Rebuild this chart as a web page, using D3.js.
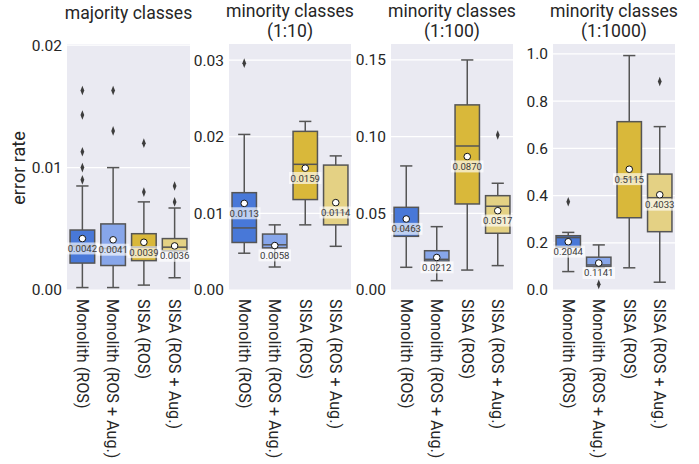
<!DOCTYPE html>
<html>
<head>
<meta charset="utf-8">
<script src="https://cdn.jsdelivr.net/npm/d3@7"></script>
<style>
  body { margin: 0; background: #ffffff; }
  svg { display: block; font-family: Roboto, "Noto Sans", sans-serif; }
</style>
</head>
<body>
<svg id="chart" width="699" height="464"></svg>
<script>
// Methods compared in every panel
const categories = ["Monolith (ROS)", "Monolith (ROS + Aug.)", "SISA (ROS)", "SISA (ROS + Aug.)"];
const colors = ["#4878d8", "#87a6ea", "#d9b83a", "#e4d184"];

// Panel titles
const titles = [["majority classes"], ["minority classes", "(1:10)"], ["minority classes", "(1:100)"], ["minority classes", "(1:1000)"]];

// Y-axis ticks and upper limits for each panel
const yTicks = [[0, 0.01, 0.02], [0, 0.01, 0.02, 0.03], [0, 0.05, 0.10, 0.15], [0, 0.2, 0.4, 0.6, 0.8, 1.0]];
const yTickFormats = [".2f", ".2f", ".2f", ".1f"];
const yMax = [0.0201, 0.0321, 0.1604, 1.042];

// Box statistics per panel, one value per method
const whiskerLow = [
  [0.0002, 0.0002, 0.0004, 0.0010],
  [0.0048, 0.0030, 0.0085, 0.0057],
  [0.0148, 0.0061, 0.0130, 0.0159],
  [0.078, 0.095, 0.094, 0.033]
];
const q1 = [
  [0.0022, 0.0020, 0.0024, 0.0032],
  [0.0062, 0.0055, 0.0118, 0.0085],
  [0.0350, 0.0189, 0.0561, 0.0370],
  [0.182, 0.099, 0.306, 0.247]
];
const medians = [
  [0.0036, 0.0034, 0.0035, 0.0035],
  [0.0081, 0.0059, 0.0164, 0.0101],
  [0.0400, 0.0200, 0.0939, 0.0546],
  [0.222, 0.106, 0.470, 0.391]
];
const q3 = [
  [0.0049, 0.0054, 0.0046, 0.0042],
  [0.0127, 0.0073, 0.0207, 0.0163],
  [0.0539, 0.0256, 0.1207, 0.0615],
  [0.230, 0.139, 0.713, 0.491]
];
const whiskerHigh = [
  [0.0085, 0.0100, 0.0072, 0.0067],
  [0.0203, 0.0085, 0.0220, 0.0175],
  [0.0809, 0.0413, 0.1500, 0.0696],
  [0.244, 0.191, 0.993, 0.692]
];
const means = [
  [0.0042, 0.0041, 0.0039, 0.0036],
  [0.0113, 0.0058, 0.0159, 0.0114],
  [0.0463, 0.0212, 0.0870, 0.0517],
  [0.2044, 0.1141, 0.5115, 0.4033]
];
const outliers = [
  [[0.0163, 0.0143, 0.0113, 0.0100, 0.0090], [0.0163, 0.0130], [0.0120, 0.0080], [0.0085, 0.0072]],
  [[0.0296], [], [], []],
  [[], [], [], [0.1011]],
  [[0.374], [0.024], [], [0.883]]
];

const svg = d3.select("#chart");
const panelX = [[67, 190], [229, 351], [391, 513], [553, 675]];
const plotTop = 44, plotBottom = 290;
const edge = "#555555";
const textColor = "#262626";

panelX.forEach((px, p) => {
  const x = d3.scaleBand().domain(categories).range(px).paddingInner(0).paddingOuter(0);
  const y = d3.scaleLinear().domain([0, yMax[p]]).range([plotBottom, plotTop]);
  const g = svg.append("g");

  // background and grid
  g.append("rect").attr("x", px[0]).attr("y", plotTop)
    .attr("width", px[1] - px[0]).attr("height", plotBottom - plotTop).attr("fill", "#eaeaf2");
  g.selectAll("line.grid").data(yTicks[p]).join("line")
    .attr("x1", px[0]).attr("x2", px[1])
    .attr("y1", d => y(d)).attr("y2", d => y(d))
    .attr("stroke", "#ffffff").attr("stroke-width", 1.2);

  // y axis labels
  const yAxis = d3.axisLeft(y).tickValues(yTicks[p]).tickFormat(d3.format(yTickFormats[p])).tickSize(0).tickPadding(5);
  const ya = g.append("g").attr("transform", `translate(${px[0]},0)`).call(yAxis);
  ya.select(".domain").remove();
  ya.selectAll("text").attr("font-size", 15.5).attr("fill", textColor).attr("font-family", "Roboto, sans-serif");

  // x axis labels (rotated)
  const xAxis = d3.axisBottom(x).tickSize(0).tickPadding(0);
  const xa = g.append("g").attr("transform", `translate(0,${plotBottom})`).call(xAxis);
  xa.select(".domain").remove();
  xa.selectAll("text")
    .attr("font-size", 16.2).attr("fill", textColor).attr("font-family", "Roboto, sans-serif")
    .attr("transform", "rotate(90)")
    .attr("text-anchor", "start").attr("dy", "0.35em").attr("x", 9).attr("y", 0);

  // title
  const t = g.append("text").attr("x", (px[0] + px[1]) / 2).attr("text-anchor", "middle")
    .attr("font-size", 17.6).attr("fill", textColor);
  titles[p].forEach((line, i) => {
    t.append("tspan").attr("x", (px[0] + px[1]) / 2)
      .attr("y", titles[p].length === 1 ? 19 : 17 + i * 20).text(line);
  });

  const bw = x.bandwidth() * 0.8;
  categories.forEach((c, i) => {
    const cx = x(c) + x.bandwidth() / 2;
    const bg = g.append("g");
    // whiskers
    bg.append("line").attr("x1", cx).attr("x2", cx).attr("y1", y(whiskerLow[p][i])).attr("y2", y(q1[p][i]))
      .attr("stroke", edge).attr("stroke-width", 1.5);
    bg.append("line").attr("x1", cx).attr("x2", cx).attr("y1", y(q3[p][i])).attr("y2", y(whiskerHigh[p][i]))
      .attr("stroke", edge).attr("stroke-width", 1.5);
    [whiskerLow[p][i], whiskerHigh[p][i]].forEach(v => {
      bg.append("line").attr("x1", cx - bw / 4).attr("x2", cx + bw / 4).attr("y1", y(v)).attr("y2", y(v))
        .attr("stroke", edge).attr("stroke-width", 1.5);
    });
    // box
    bg.append("rect").attr("x", cx - bw / 2).attr("y", y(q3[p][i]))
      .attr("width", bw).attr("height", y(q1[p][i]) - y(q3[p][i]))
      .attr("fill", colors[i]).attr("stroke", edge).attr("stroke-width", 1.5);
    bg.append("line").attr("x1", cx - bw / 2).attr("x2", cx + bw / 2)
      .attr("y1", y(medians[p][i])).attr("y2", y(medians[p][i]))
      .attr("stroke", edge).attr("stroke-width", 1.5);
    // outliers
    bg.selectAll("path.out").data(outliers[p][i]).join("path")
      .attr("d", d3.symbol(d3.symbolDiamond, 22))
      .attr("transform", d => `translate(${cx},${y(d)}) scale(0.75,1.1)`)
      .attr("fill", "#3d3d3d");
    // mean marker
    const my = y(means[p][i]);
    bg.append("circle").attr("cx", cx).attr("cy", my).attr("r", 3.3)
      .attr("fill", "#ffffff").attr("stroke", "#111111").attr("stroke-width", 1);
    // mean label
    const label = bg.append("text").attr("x", cx).attr("y", my + 10).attr("text-anchor", "middle")
      .attr("dy", "0.35em").attr("font-size", 9.6).attr("fill", "#3a3a3a")
      .text(d3.format(".4f")(means[p][i]));
    const bb = label.node().getBBox();
    bg.insert("rect", "text").attr("x", bb.x - 1.5).attr("y", bb.y - 0.5)
      .attr("width", bb.width + 3).attr("height", bb.height + 1)
      .attr("fill", "#ffffff").attr("fill-opacity", 0.65);
  });
});

// shared y label
svg.append("text").attr("transform", "translate(25,168) rotate(-90)").attr("text-anchor", "middle")
  .attr("font-size", 18).attr("fill", textColor).text("error rate");
</script>
</body>
</html>
